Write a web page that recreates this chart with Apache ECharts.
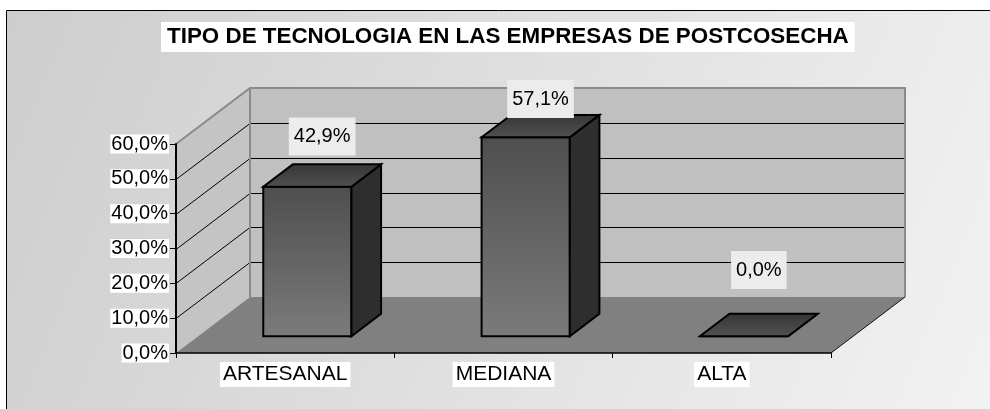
<!DOCTYPE html>
<html>
<head>
<meta charset="utf-8">
<title>Tipo de tecnologia</title>
<script src="https://cdn.jsdelivr.net/npm/echarts@6/dist/echarts.min.js"></script>
<style>
  *{margin: 0; padding: 0;}
  html,body{width: 100%; height: 100%; background: #fff;}
  #chart{width: 990px; height: 409px;}
</style>
</head>
<body>
<div id="chart"></div>
<script>
var categories = ['ARTESANAL', 'MEDIANA', 'ALTA']
var shares = [0.429, 0.571, 0]
var yTicks = [0, 0.1, 0.2, 0.3, 0.4, 0.5, 0.6]
// the labels in the original were dragged by hand, so each has its own lift
var labelLift = [39, 27, 55]

// fake 3d: oblique depth vector in px, bar sits between 30% and 70% of the depth
var DEPTH_X = 74
var DEPTH_Y = -56
var BAR_FRONT = 0.3
var BAR_BACK = 0.7
var BAR_WIDTH = 0.404
var FONT = '"Liberation Sans", Arial, sans-serif'

function pct(v) {
  return (v * 100).toFixed(1).replace('.', ',') + '%'
}

function renderWalls(params, api) {
  var cs = params.coordSys
  var x0 = cs.x
  var x1 = cs.x + cs.width
  var yTop = cs.y
  var yBot = cs.y + cs.height
  var dx = DEPTH_X
  var dy = DEPTH_Y
  var kids = []
  // side wall
  kids.push({
    type: 'polygon',
    shape: { points: [[x0, yBot], [x0, yTop], [x0 + dx, yTop + dy], [x0 + dx, yBot + dy]] },
    style: { fill: '#c4c4c4' }
  })
  // back wall
  kids.push({
    type: 'rect',
    shape: { x: x0 + dx, y: yTop + dy, width: cs.width, height: cs.height },
    style: { fill: '#c0c0c0' }
  })
  // floor
  kids.push({
    type: 'polygon',
    shape: { points: [[x0, yBot], [x1, yBot], [x1 + dx, yBot + dy], [x0 + dx, yBot + dy]] },
    style: { fill: '#808080' }
  })
  // gridlines on the back wall + diagonals across the side wall
  for (var i = 0; i < yTicks.length; i++) {
    var t = yTicks[i]
    if (t <= yTicks[0] || t >= yTicks[yTicks.length - 1]) continue
    var y = Math.round(api.coord([0, t])[1]) + 0.5
    kids.push({
      type: 'line',
      shape: { x1: x0 + dx, y1: y + dy, x2: x1 + dx, y2: y + dy },
      style: { stroke: '#000', lineWidth: 1 }
    })
    kids.push({
      type: 'line',
      shape: { x1: x0, y1: y, x2: x0 + dx, y2: y + dy },
      style: { stroke: '#000', lineWidth: 1 }
    })
  }
  // gray wall edges
  kids.push({
    type: 'polyline',
    shape: { points: [[x0, yTop], [x0 + dx, yTop + dy], [x1 + dx, yTop + dy], [x1 + dx, yBot + dy]] },
    style: { stroke: '#8a8a8a', lineWidth: 2, fill: null }
  })
  kids.push({
    type: 'line',
    shape: { x1: x0 + dx, y1: yTop + dy, x2: x0 + dx, y2: yBot + dy },
    style: { stroke: '#8a8a8a', lineWidth: 2 }
  })
  // right floor edge
  kids.push({
    type: 'line',
    shape: { x1: x1, y1: yBot, x2: x1 + dx, y2: yBot + dy },
    style: { stroke: '#111', lineWidth: 1 }
  })
  return { type: 'group', children: kids }
}

function renderBar(params, api) {
  var idx = api.value(0)
  var val = api.value(1)
  var base = api.coord([idx, 0])
  var top = api.coord([idx, val])
  var band = api.size([1, 0])[0]
  var half = band * BAR_WIDTH / 2
  var fx = BAR_FRONT * DEPTH_X
  var fy = BAR_FRONT * DEPTH_Y
  var bx = (BAR_BACK - BAR_FRONT) * DEPTH_X
  var by = (BAR_BACK - BAR_FRONT) * DEPTH_Y
  var xL = base[0] + fx - half
  var xR = base[0] + fx + half
  var yB = base[1] + fy
  var yT = top[1] + fy
  var edge = { stroke: '#000', lineWidth: 2, lineJoin: 'miter' }
  var kids = []
  // front
  kids.push({
    type: 'polygon',
    shape: { points: [[xL, yB], [xL, yT], [xR, yT], [xR, yB]] },
    style: Object.assign({
      fill: new echarts.graphic.LinearGradient(0, 0, 0, 1, [
        { offset: 0, color: '#4e4e4e' },
        { offset: 1, color: '#7b7b7b' }
      ])
    }, edge)
  })
  // side
  kids.push({
    type: 'polygon',
    shape: { points: [[xR, yB], [xR, yT], [xR + bx, yT + by], [xR + bx, yB + by]] },
    style: Object.assign({ fill: '#2e2e2e' }, edge)
  })
  // top
  kids.push({
    type: 'polygon',
    shape: { points: [[xL, yT], [xR, yT], [xR + bx, yT + by], [xL + bx, yT + by]] },
    style: Object.assign({
      fill: new echarts.graphic.LinearGradient(0, 0, 0, 1, [
        { offset: 0, color: '#353535' },
        { offset: 1, color: '#525252' }
      ])
    }, edge)
  })
  // value label
  kids.push({
    type: 'text',
    style: {
      text: pct(val),
      x: base[0] + 0.5 * DEPTH_X,
      y: top[1] + 0.5 * DEPTH_Y - labelLift[params.dataIndex],
      align: 'center',
      verticalAlign: 'middle',
      font: '20px ' + FONT,
      fill: '#000',
      backgroundColor: '#ececec',
      padding: [9, 5]
    }
  })
  return { type: 'group', children: kids }
}

var chart = echarts.init(document.getElementById('chart'))
var options = {
  animation: false,
  backgroundColor: '#fff',
  graphic: [
    {
      type: 'rect',
      z: -10,
      silent: true,
      shape: { x: 6.5, y: 10.5, width: 1000, height: 500 },
      style: {
        fill: new echarts.graphic.LinearGradient(0, 0, 990, 409, [
          { offset: 0, color: '#cdcdcd' },
          { offset: 1, color: '#f2f2f2' }
        ], true),
        stroke: '#000',
        lineWidth: 1
      }
    }
  ],
  title: {
    text: 'TIPO DE TECNOLOGIA EN LAS EMPRESAS DE POSTCOSECHA',
    left: 161,
    top: 22,
    backgroundColor: '#fff',
    padding: [4, 6],
    textStyle: {
      color: '#000',
      fontWeight: 'bold',
      fontSize: 22.4,
      lineHeight: 22,
      fontFamily: FONT
    }
  },
  grid: {
    left: 176,
    right: 159,
    top: 144,
    bottom: 56
  },
  xAxis: {
    type: 'category',
    data: categories,
    z: 10,
    axisLine: { lineStyle: { color: '#000', width: 1.5 } },
    axisTick: { show: true, length: 5, lineStyle: { color: '#000' } },
    axisLabel: {
      color: '#000',
      fontSize: 21,
      fontFamily: FONT,
      backgroundColor: '#fff',
      padding: [2, 3],
      margin: 9
    }
  },
  yAxis: {
    type: 'value',
    min: yTicks[0],
    max: yTicks[yTicks.length - 1],
    interval: 0.1,
    z: 10,
    splitLine: { show: false },
    axisLine: { show: true, lineStyle: { color: '#000', width: 2 } },
    axisTick: { show: true, length: 6, lineStyle: { color: '#000' } },
    axisLabel: {
      color: '#000',
      fontSize: 20,
      lineHeight: 19,
      fontFamily: FONT,
      backgroundColor: '#fff',
      padding: [0, 1],
      margin: 7,
      formatter: pct
    }
  },
  series: [
    {
      type: 'custom',
      z: 1,
      silent: true,
      renderItem: renderWalls,
      data: [[0, 0]]
    },
    {
      type: 'custom',
      z: 3,
      renderItem: renderBar,
      encode: { x: 0, y: 1 },
      data: shares.map(function(v, i) { return [i, v] })
    }
  ]
}
chart.setOption(options)
</script>
</body>
</html>
